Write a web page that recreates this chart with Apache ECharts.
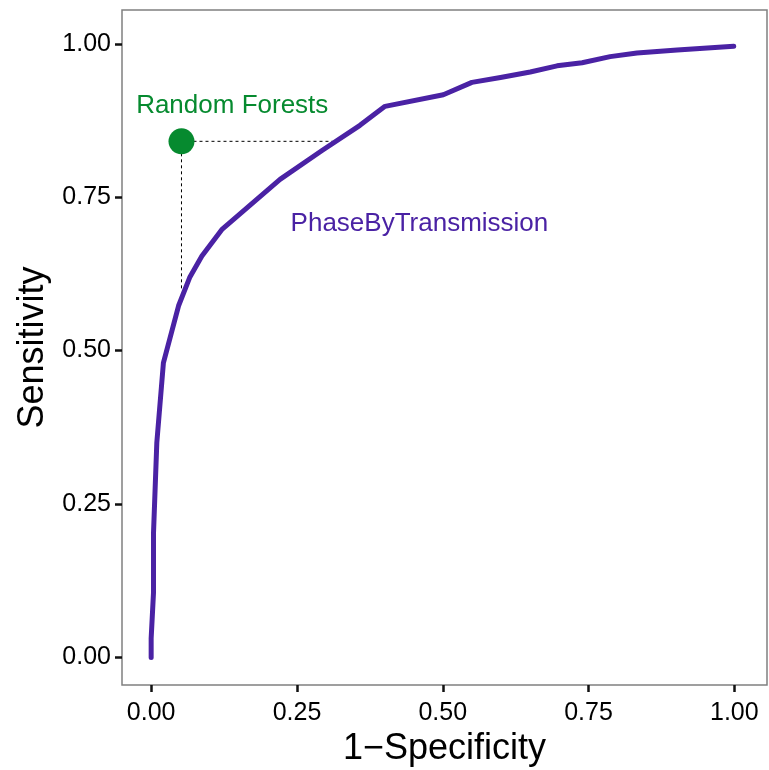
<!DOCTYPE html>
<html><head><meta charset="utf-8">
<script src="https://cdn.jsdelivr.net/npm/echarts@6/dist/echarts.min.js"></script>
<style>html,body{margin:0;padding:0;background:#fff}#c{width:769px;height:770px}</style>
</head><body><div id="c"></div>
<script>
// ROC curve: PhaseByTransmission
const fpr = [0, 0, 0.004, 0.004, 0.0097, 0.021, 0.047, 0.066, 0.087, 0.121, 0.221, 0.293, 0.358, 0.401, 0.501, 0.550, 0.599, 0.650, 0.696, 0.739, 0.787, 0.833, 0.902, 0.999];
const tpr = [0, 0.031, 0.105, 0.202, 0.35, 0.48, 0.573, 0.619, 0.654, 0.697, 0.779, 0.826, 0.867, 0.898, 0.917, 0.937, 0.945, 0.954, 0.964, 0.969, 0.979, 0.985, 0.990, 0.996];
// Random Forests point
const rfPoint = [0.052, 0.841];
const rfGuideH = [[0.052, 0.841], [0.311, 0.841]];
const rfGuideV = [[0.052, 0.841], [0.052, 0.60]];
// annotations
const labelNames = ['Random Forests', 'PhaseByTransmission'];
const labelPos = [[0.139, 0.899], [0.46, 0.706]];
const labelColors = ['#068A2F', '#4A22A4'];
const tickValues = [0, 0.25, 0.5, 0.75, 1];

const chart = echarts.init(document.getElementById('c'));
const font = '"Liberation Sans", Arial, sans-serif';
const axisCommon = {
  type: 'value',
  nameLocation: 'middle',
  axisLine: {show: false, onZero: false}, splitLine: {show: false},
  axisTick: {show: true, length: 7, lineStyle: {color: '#111', width: 2.5}, customValues: tickValues}
};
chart.setOption({
  animation: false,
  grid: {left: 122, right: 2, top: 10, bottom: 85, show: true, borderColor: '#808080', borderWidth: 1.5,
    backgroundColor: '#fff', containLabel: false, outerBoundsMode: 'none'},
  xAxis: Object.assign({}, axisCommon, {
    min: -0.05, max: 1.056,
    name: '1\u2212Specificity', nameGap: 46,
    nameTextStyle: {fontFamily: font, fontSize: 36, color: '#000'},
    axisLabel: {customValues: tickValues, fontFamily: font, fontSize: 25, color: '#000', margin: 16,
      formatter: v => v.toFixed(2)}
  }),
  yAxis: Object.assign({}, axisCommon, {
    min: -0.045, max: 1.055,
    name: 'Sensitivity', nameGap: 70, nameRotate: 90,
    nameTextStyle: {fontFamily: font, fontSize: 36, color: '#000'},
    axisLabel: {customValues: tickValues, fontFamily: font, fontSize: 25, color: '#000', margin: 11,
      formatter: v => v.toFixed(2)}
  }),
  series: [
    {type: 'line', data: rfGuideH, symbol: 'none', lineStyle: {color: '#000', width: 1, type: [3, 3]}, z: 1},
    {type: 'line', data: rfGuideV, symbol: 'none', lineStyle: {color: '#000', width: 1, type: [3, 3]}, z: 1},
    {type: 'line', data: fpr.map((x, i) => [x, tpr[i]]), symbol: 'none',
      lineStyle: {color: '#4A22A4', width: 5, cap: 'round', join: 'round'}, z: 3},
    {type: 'scatter', data: [rfPoint], symbolSize: 26, itemStyle: {color: '#068A2F', opacity: 1}, z: 4},
    {type: 'scatter', symbolSize: 0, z: 5, itemStyle: {opacity: 1},
      data: labelNames.map((n, i) => ({value: labelPos[i], name: n,
        label: {show: true, position: 'inside', formatter: n, color: labelColors[i], opacity: 1,
          fontFamily: font, fontSize: 26}}))}
  ]
});
</script></body></html>
